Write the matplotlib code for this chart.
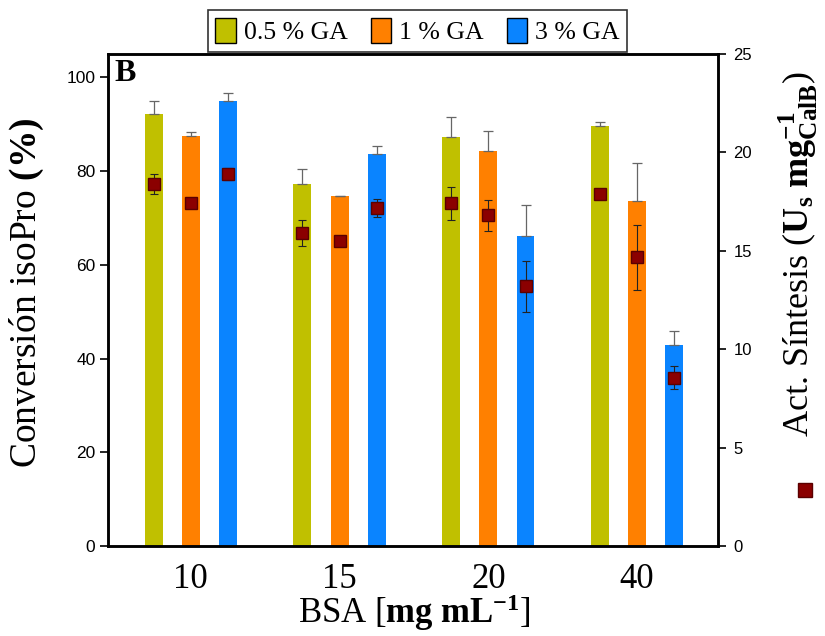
import matplotlib
matplotlib.use('Agg')
import matplotlib.pyplot as plt
from matplotlib.patches import Patch
import numpy as np

plt.rcParams['mathtext.fontset'] = 'custom'
plt.rcParams['mathtext.rm'] = 'Liberation Serif'
plt.rcParams['mathtext.bf'] = 'Liberation Serif:bold'
plt.rcParams['mathtext.it'] = 'Liberation Serif:italic'

bsa = ['10', '15', '20', '40']
series = ['0.5 % GA', '1 % GA', '3 % GA']
colors = ['#c0c000', '#ff8000', '#0a84ff']

conv_05 = [92.3, 77.3, 87.3, 89.7]
conv_05_err = [2.6, 3.2, 4.3, 0.7]
conv_1 = [87.5, 74.6, 84.4, 73.6]
conv_1_err = [0.9, 0.2, 4.1, 8.2]
conv_3 = [94.9, 83.6, 66.2, 42.9]
conv_3_err = [1.8, 1.8, 6.5, 2.9]

act_05 = [18.38, 15.89, 17.41, 17.89]
act_05_err = [0.5, 0.65, 0.85, 0.0]
act_1 = [17.45, 15.48, 16.8, 14.66]
act_1_err = [0.0, 0.0, 0.8, 1.64]
act_3 = [18.92, 17.19, 13.19, 8.55]
act_3_err = [0.3, 0.46, 1.3, 0.58]

conv = [conv_05, conv_1, conv_3]
conv_err = [conv_05_err, conv_1_err, conv_3_err]
act = [act_05, act_1, act_3]
act_err = [act_05_err, act_1_err, act_3_err]

serif = 'Liberation Serif'
sans = 'Liberation Sans'

fig = plt.figure(figsize=(8.25, 6.36), dpi=100)
ax = fig.add_axes([0.1309, 0.1415, 0.7394, 0.7736])
ax2 = ax.twinx()

x = np.arange(len(bsa))
offs = [-0.25, 0.0, 0.25]
w = 0.12
for k in range(3):
    ax.bar(x + offs[k], conv[k], width=w, color=colors[k], zorder=2)
    ax.errorbar(x + offs[k], conv[k], yerr=[np.zeros(4), conv_err[k]],
                fmt='none', ecolor='#666666', elinewidth=0.9, capsize=3.5,
                capthick=0.9, zorder=3)
    ax2.errorbar(x + offs[k], act[k], yerr=act_err[k], fmt='s',
                 color='#8b0000', mec='#5a0000', ms=8.5, ecolor='#222222',
                 elinewidth=0.8, capsize=3, capthick=0.8, zorder=4)

ax.set_xlim(-0.557, 3.544)
ax.set_ylim(0, 105)
ax2.set_ylim(0, 25)
ax.set_zorder(1)
ax2.set_zorder(2)
ax.patch.set_visible(False)

ax.set_xticks(x)
ax.set_xticklabels(bsa, fontsize=25, family=serif)
ax.tick_params(axis='x', length=0, pad=12)
ax.set_yticks([0, 20, 40, 60, 80, 100])
ax.tick_params(axis='y', direction='out', length=6, width=1.2, labelsize=12.5, pad=3)
for t in ax.get_yticklabels():
    t.set_family(sans)
ax2.set_yticks([0, 5, 10, 15, 20, 25])
ax2.tick_params(axis='y', direction='out', length=6, width=1.2, labelsize=12, pad=5)
for t in ax2.get_yticklabels():
    t.set_family(sans)

for a in (ax, ax2):
    for s in a.spines.values():
        s.set_linewidth(1.8)

ax.text(0.01, 0.99, 'B', transform=ax.transAxes, fontsize=23,
        fontweight='bold', family=serif, va='top', ha='left')

fig.text(0.032, 0.54, r'Conversión isoPro $\mathbf{(\%)}$', rotation=90,
         fontsize=27, family=serif, ha='center', va='center')
fig.text(0.502, 0.036, r'BSA [$\mathbf{mg\ mL}^{\mathbf{-1}}$]',
         fontsize=25, family=serif, ha='center', va='center')
fig.text(0.968, 0.60, r'Act. Síntesis ($\mathbf{U_s\ mg^{-1}_{CalB}}$)',
         rotation=90, fontsize=26, family=serif, ha='center', va='center')
fig.add_artist(plt.Line2D([0.976], [0.23], marker='s', color='#8b0000',
                          mec='#5a0000', ms=10, transform=fig.transFigure))

handles = [Patch(facecolor=c, edgecolor='black', linewidth=1.0) for c in colors]
leg = fig.legend(handles, series, loc='center', bbox_to_anchor=(0.506, 0.951),
                 ncol=3, frameon=True, fancybox=False, edgecolor='black',
                 prop={'family': serif, 'size': 18.5}, handlelength=0.8,
                 handleheight=1.1, handletextpad=0.3, columnspacing=0.9,
                 borderpad=0.3, borderaxespad=0)
leg.get_frame().set_linewidth(1.2)

fig.savefig('out.png', dpi=100)
